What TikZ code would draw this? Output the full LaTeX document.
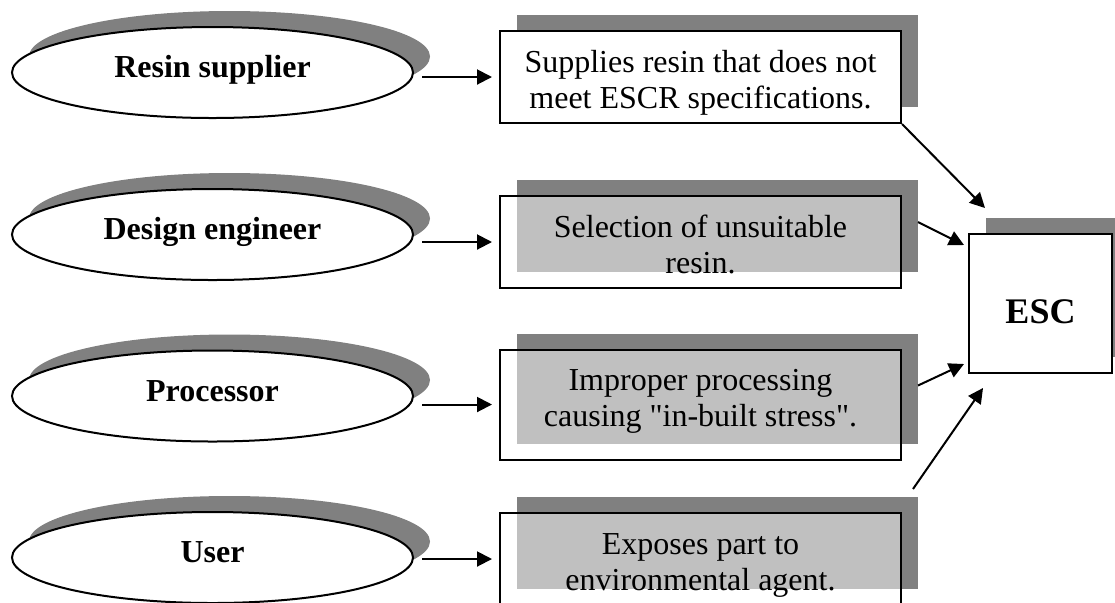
\documentclass[tikz,border=0pt]{standalone}
\usepackage{fontspec}
\setmainfont{Liberation Serif}
\usetikzlibrary{positioning,shapes.geometric,shadows,arrows.meta}

\definecolor{shadegray}{HTML}{808080}
\definecolor{panelgray}{HTML}{C0C0C0}

\begin{document}
\begin{tikzpicture}[x=0.5pt, y=-0.5pt, line width=1pt, >={Triangle[length=7.5pt, width=7.5pt]}]

\tikzstyle{shadowed} = [drop shadow={shadow xshift=8.5pt, shadow yshift=8pt, fill=shadegray, opacity=1}]
\tikzstyle{actor} = [draw, ellipse, fill=white, shadowed, minimum width=200.5pt, minimum height=45.5pt, font=\fontsize{16}{18}\selectfont\bfseries, text height=11pt, text depth=6pt]
\tikzstyle{cause} = [draw, fill=white, shadowed, minimum width=200.5pt, minimum height=46pt]
\tikzstyle{grayed} = [path picture={\fill[panelgray] ([xshift=8.5pt]path picture bounding box.north west) rectangle ([yshift=8pt]path picture bounding box.south east);}]
\tikzstyle{causetext} = [inner sep=0pt, align=center, font=\fontsize{16}{18}\selectfont]
\tikzstyle{link} = [->, shorten <=4pt, shorten >=3.5pt]

\path[use as bounding box, clip] (0, 0) rectangle (1115, 602);

% --- who
\node[actor] (supplier) at (212.5, 72.5) {Resin supplier};
\node[actor] (designer) at (212.5, 234.5) {Design engineer};
\node[actor] (processor) at (212.5, 396) {Processor};
\node[actor] (user) at (212.5, 557.5) {User};

% --- what goes wrong
\node[cause] (supplies) at (700.5, 77) {};
\node[cause, grayed] (selection) at (700.5, 242) {};
\node[cause, grayed, minimum height=55pt] (improper) at (700.5, 404.5) {};
\node[cause, grayed] (exposes) at (700.5, 559) {};

\node[causetext, below=7.9pt] (supplies-txt) at (supplies.north) {\strut Supplies resin that does not\\meet ESCR specifications.};
\node[causetext, below=7.9pt] (selection-txt) at (selection.north) {\strut Selection of unsuitable\\resin.};
\node[causetext, below=7.9pt] (improper-txt) at (improper.north) {\strut Improper processing\\causing \textquotedbl in-built stress\textquotedbl.};
\node[causetext, below=7.9pt] (exposes-txt) at (exposes.north) {\strut Exposes part to\\environmental agent.};

% --- result
\node[draw, fill=white, shadowed, minimum width=71.5pt, minimum height=69.5pt, font=\fontsize{18}{20}\selectfont\bfseries, text height=19.5pt, text depth=0pt] (esc) at (1040.5, 303.5) {ESC};

% who -> what
\draw[link] (supplier.east |- supplies.west) -- (supplies.west);
\draw[link] (designer.east |- selection.west) -- (selection.west);
\draw[link] (processor.east |- improper.west) -- (improper.west);
\draw[link] (user.east |- exposes.west) -- (exposes.west);

% what -> ESC
\draw[->] (supplies.south east) -- ([shift={(17,-25)}]esc.north west);
\draw[->] ([shift={(16,27)}]selection.north east) -- ([shift={(-4,12)}]esc.north west);
\draw[->] ([shift={(16,37)}]improper.north east) -- ([shift={(-4,-10)}]esc.south west);
\draw[->] ([shift={(11,-23)}]exposes.north east) -- ([shift={(15,14)}]esc.south west);

\end{tikzpicture}
\end{document}
